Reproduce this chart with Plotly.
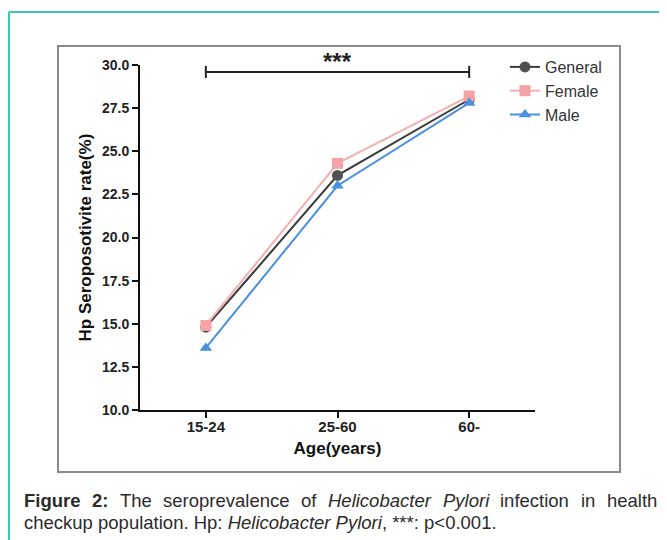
import plotly.graph_objects as go

# ---------------- data ----------------
categories = ["15-24", "25-60", "60-"]
general = [14.8, 23.6, 28.0]
female = [14.9, 24.3, 28.2]
male = [13.6, 23.0, 27.8]
y_ticks = [10.0, 12.5, 15.0, 17.5, 20.0, 22.5, 25.0, 27.5, 30.0]
bracket_value = 29.6
sig_label = "***"

# ---------------- layout geometry (page pixels) ----------------
OFF = 8  # default page body margin
W, H = 667 - OFF, 540 - OFF
PL, PR, PT, PB = 140, 535, 65, 410


def px2x(px):
    return (px - PL) / (PR - PL)


def py2y(py):
    return (PB - py) / (PB - PT)


FONT = "Liberation Sans, Arial, sans-serif"
C_GEN = "#505050"
C_FEM = "#f4a3a6"
C_MAL = "#4a90e2"

fig = go.Figure()
fig.add_trace(go.Scatter(
    x=categories, y=general, name="General", mode="lines+markers",
    line=dict(color="#3a3a3a", width=2),
    marker=dict(symbol="circle", size=11, color=C_GEN)))
fig.add_trace(go.Scatter(
    x=categories, y=female, name="Female", mode="lines+markers",
    line=dict(color="#f2b0b2", width=2),
    marker=dict(symbol="square", size=11, color=C_FEM)))
fig.add_trace(go.Scatter(
    x=categories, y=male, name="Male", mode="lines+markers",
    line=dict(color=C_MAL, width=2),
    marker=dict(symbol="triangle-up", size=11, color=C_MAL)))

shapes = []
# significance bracket
shapes.append(dict(type="line", xref="x", yref="y", x0=0, x1=len(categories) - 1,
                   y0=bracket_value, y1=bracket_value,
                   line=dict(color="#222", width=2)))
for xi in (0, len(categories) - 1):
    shapes.append(dict(type="line", xref="x", yref="y", x0=xi, x1=xi,
                       y0=bracket_value - 0.35, y1=bracket_value + 0.35,
                       line=dict(color="#222", width=2)))
# inner grey frame
shapes.append(dict(type="rect", xref="paper", yref="paper",
                   x0=px2x(58), x1=px2x(620), y0=py2y(472), y1=py2y(46),
                   line=dict(color="#8a8a8a", width=2), layer="below"))
# teal outer frame (top and left)
shapes.append(dict(type="line", xref="paper", yref="paper",
                   x0=px2x(9), x1=px2x(667), y0=py2y(12), y1=py2y(12),
                   line=dict(color="#3fc7b3", width=2)))
shapes.append(dict(type="line", xref="paper", yref="paper",
                   x0=px2x(9), x1=px2x(9), y0=py2y(12), y1=py2y(540),
                   line=dict(color="#3fc7b3", width=2)))

annotations = []
annotations.append(dict(x=(len(categories) - 1) / 2, y=bracket_value, xref="x", yref="y",
                        text=sig_label, showarrow=False, yanchor="bottom", yshift=-5,
                        font=dict(family=FONT, size=24, color="#222", weight="bold")))
# y axis title
annotations.append(dict(x=0, y=0.5, xref="paper", yref="paper", xanchor="center",
                        yanchor="middle", xshift=-55, textangle=-90,
                        text="Hp Seroposotivite rate(%)", showarrow=False,
                        font=dict(family=FONT, size=17, color="#111", weight="bold")))

# ---------------- caption (justified first line) ----------------
REG = {' ': 278, 'T': 611, 'h': 556, 'e': 556, 's': 500, 'r': 333, 'o': 556, 'p': 556,
       'v': 500, 'a': 556, 'l': 222, 'n': 556, 'c': 500, 'f': 278, 'H': 722, 'i': 222,
       'b': 556, 't': 278, 'P': 667, 'y': 500, 'k': 500, 'u': 556, '.': 278, ':': 278,
       ',': 278, '*': 389, '<': 584, '0': 556, '1': 556, '2': 556}
BOLD = {'F': 611, 'i': 278, 'g': 611, 'u': 611, 'r': 389, 'e': 556, '2': 556, ':': 333, ' ': 278}
CAP_SIZE = 18.5
CAP_COLOR = "#2b2b2b"


def wid(word, bold):
    tab = BOLD if bold else REG
    return sum(tab.get(ch, 556) for ch in word) * CAP_SIZE / 1000.0


line1 = [("Figure", "b"), ("2:", "b"), ("The", "r"), ("seroprevalence", "r"), ("of", "r"),
         ("Helicobacter", "i"), ("Pylori", "i"), ("infection", "r"), ("in", "r"), ("health", "r")]
x_start, x_end = 22, 655
widths = [wid(w, s == "b") for w, s in line1]
gap = (x_end - x_start - sum(widths)) / (len(line1) - 1)
xc = x_start
for (w, s), wd in zip(line1, widths):
    txt = f"<b>{w}</b>" if s == "b" else (f"<i>{w}</i>" if s == "i" else w)
    annotations.append(dict(x=px2x(xc), y=py2y(500), xref="paper", yref="paper",
                            xanchor="left", yanchor="middle", text=txt, showarrow=False,
                            font=dict(family=FONT, size=CAP_SIZE, color=CAP_COLOR)))
    xc += wd + gap
annotations.append(dict(x=px2x(x_start), y=py2y(522), xref="paper", yref="paper",
                        xanchor="left", yanchor="middle",
                        text="checkup population. Hp: <i>Helicobacter Pylori</i>, ***: p&lt;0.001.",
                        showarrow=False,
                        font=dict(family=FONT, size=CAP_SIZE, color=CAP_COLOR)))

fig.update_layout(
    width=W, height=H, autosize=False,
    margin=dict(l=PL - OFF, r=667 - PR, t=PT - OFF, b=540 - PB, pad=0),
    plot_bgcolor="white", paper_bgcolor="white",
    font=dict(family=FONT, color="#111"),
    showlegend=True,
    legend=dict(x=px2x(505), y=py2y(50), xanchor="left", yanchor="top",
                bgcolor="rgba(0,0,0,0)", font=dict(family=FONT, size=16, color="#333"),
                itemwidth=30, tracegroupgap=0),
    shapes=shapes, annotations=annotations,
    xaxis=dict(type="category", range=[-0.5, 2.5], showgrid=False, zeroline=False,
               showline=True, linecolor="#111", linewidth=2,
               ticks="outside", ticklen=6, tickwidth=2, tickcolor="#111",
               ticklabelstandoff=-4,
               tickfont=dict(family=FONT, size=15, color="#222", weight="bold"),
               title=dict(text="Age(years)", standoff=8,
                          font=dict(family=FONT, size=17, color="#111", weight="bold"))),
    yaxis=dict(range=[10, 30], tickvals=y_ticks, ticktext=[f"{v:.1f}" for v in y_ticks],
               showgrid=False, zeroline=False, showline=True, linecolor="#111", linewidth=2,
               ticks="outside", ticklen=6, tickwidth=2, tickcolor="#111",
               tickfont=dict(family=FONT, size=14, color="#222", weight="bold")),
)

fig.write_html("out.html")
